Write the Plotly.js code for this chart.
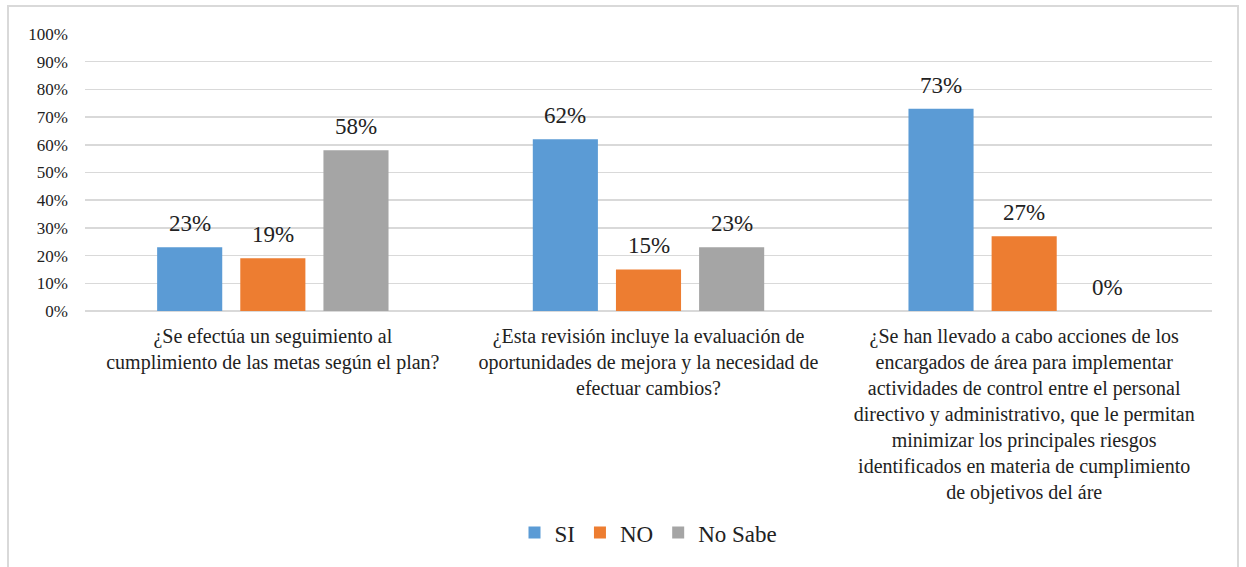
<!DOCTYPE html>
<html>
<head>
<meta charset="utf-8">
<script src="https://cdn.plot.ly/plotly-3.0.1.min.js"></script>
<style>
  html, body { margin: 0; padding: 0; background: #fff; }
  #frame { position: absolute; left: 7px; top: 5px; width: 1232px; height: 580px; border: 2px solid #d9d9d9; box-sizing: border-box; }
  #chart { position: absolute; left: 0; top: 0; width: 1246px; height: 567px; }
</style>
</head>
<body>
<div id="frame"></div>
<div id="chart"></div>
<script>
const categories = [
  "¿Se efectúa un seguimiento al<br>cumplimiento de las metas según el plan?",
  "¿Esta revisión incluye la evaluación de<br>oportunidades de mejora y la necesidad de<br>efectuar cambios?",
  "¿Se han llevado a cabo acciones de los<br>encargados de área para implementar<br>actividades de control entre el personal<br>directivo y administrativo, que le permitan<br>minimizar los principales riesgos<br>identificados en materia de cumplimiento<br>de objetivos del áre"
];
const seriesNames = ["SI", "NO", "No Sabe"];
const siValues = [23, 62, 73];
const noValues = [19, 15, 27];
const noSabeValues = [58, 23, 0];
const yTickValues = [0, 10, 20, 30, 40, 50, 60, 70, 80, 90, 100];
const yTickLabels = ["0%", "10%", "20%", "30%", "40%", "50%", "60%", "70%", "80%", "90%", "100%"];

const colors = ["#5B9BD5", "#ED7D31", "#A5A5A5"];
const allValues = [siValues, noValues, noSabeValues];
const FONT = "Liberation Serif, Times New Roman, serif";

const traces = allValues.map((vals, i) => ({
  type: "bar",
  name: seriesNames[i],
  x: categories,
  y: vals,
  marker: { color: colors[i] },
  hoverinfo: "none"
}));

// data labels placed above the bars
const plotW = 1246 - 85 - 34;
const catW = plotW / categories.length;
const bargap = 0.336;
const slot = catW * (1 - bargap) / 3;
const annotations = [];
allValues.forEach((vals, i) => {
  vals.forEach((v, j) => {
    annotations.push({
      x: categories[j], y: v, xref: "x", yref: "y",
      text: v + "%", showarrow: false,
      xanchor: "center", yanchor: "bottom",
      xshift: (i - 1) * slot, yshift: 9,
      font: { family: FONT, size: 23, color: "#222" }
    });
  });
});

const layout = {
  width: 1246, height: 567,
  margin: { l: 85, r: 34, t: 34, b: 254 },
  paper_bgcolor: "rgba(0,0,0,0)",
  plot_bgcolor: "#fff",
  barmode: "group",
  bargap: bargap,
  bargroupgap: 0.217,
  font: { family: FONT, color: "#222" },
  xaxis: {
    tickfont: { family: FONT, size: 20, color: "#222" },
    showgrid: false, zeroline: false, showline: false,
    ticks: "", ticklabelstandoff: 11, fixedrange: true
  },
  yaxis: {
    range: [0, 100],
    tickvals: yTickValues, ticktext: yTickLabels,
    tickfont: { family: FONT, size: 17, color: "#222" },
    showgrid: true, gridcolor: "#d9d9d9", gridwidth: 1.5,
    zeroline: true, zerolinecolor: "#d9d9d9", zerolinewidth: 1.5,
    showline: false, ticks: "", ticklabelstandoff: 16, fixedrange: true
  },
  legend: {
    orientation: "h", x: 0.5, xanchor: "center", y: -0.8, yanchor: "middle",
    font: { family: FONT, size: 23, color: "#222" },
    itemwidth: 30, traceorder: "normal"
  },
  annotations: annotations,
  showlegend: true
};

Plotly.newPlot("chart", traces, layout, { displayModeBar: false, staticPlot: true });
</script>
</body>
</html>
